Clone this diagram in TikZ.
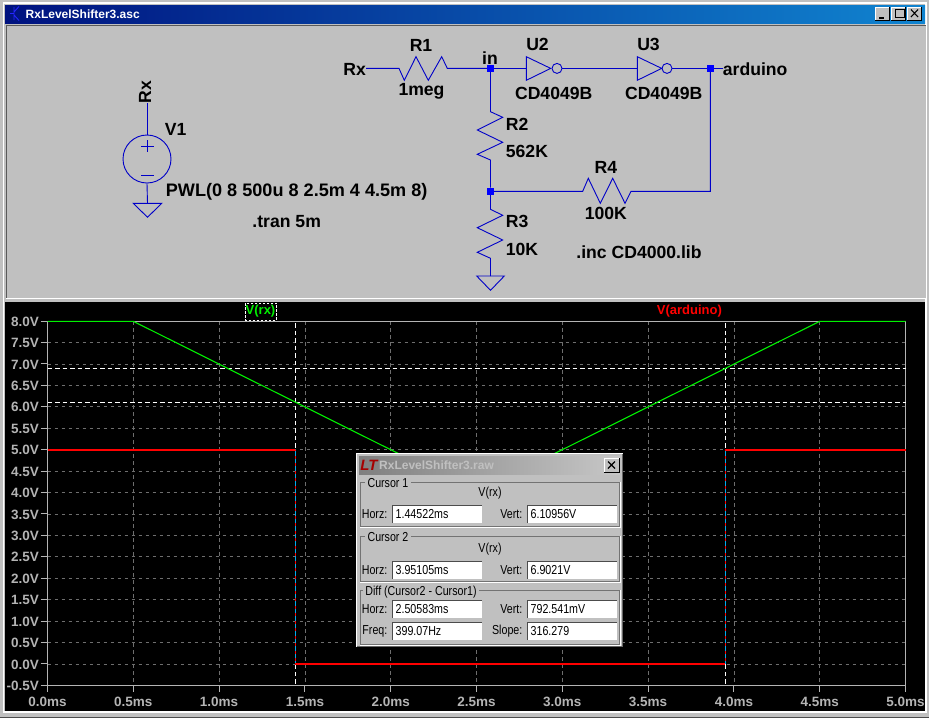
\documentclass[tikz,border=0pt]{standalone}
\usepackage{fontspec}
\setmainfont{Liberation Sans}
\definecolor{wingray}{HTML}{C0C0C0}
\definecolor{schem}{HTML}{0000C8}
\definecolor{axis}{HTML}{B4B4B4}
\definecolor{gridc}{HTML}{6E6E6E}
\definecolor{tracegreen}{HTML}{00F000}
\definecolor{tracered}{HTML}{FF0000}
\definecolor{titleL}{HTML}{00127F}
\definecolor{titleR}{HTML}{1084D0}
\tikzset{
  wire/.style={draw=schem,line width=0.9pt},
  lbl/.style={font=\bfseries\fontsize{17.6}{18}\selectfont,text=black,inner sep=0pt,anchor=center},
  dot/.style={fill=blue,draw=none,minimum size=7pt,inner sep=0pt,rectangle},
  bubble/.style={draw=schem,circle,line width=0.9pt,minimum size=10pt,inner sep=0pt},
  gridl/.style={draw=gridc,line width=0.7pt,dash pattern=on 3.5pt off 3.5pt},
  curs/.style={draw=white,line width=1pt,dash pattern=on 4.5pt off 3pt},
  ylab/.style={font=\bfseries\fontsize{13.5}{14}\selectfont,text=axis,anchor=east,inner sep=0pt},
  xlab/.style={font=\bfseries\fontsize{13.5}{14}\selectfont,text=axis,anchor=center,inner sep=0pt},
  dlg/.style={font=\fontsize{13}{14}\selectfont,text=black,inner sep=0pt,xscale=0.82},
  group/.style={draw=white,line width=0.8pt},
}
\begin{document}
\begin{tikzpicture}[x=1pt,y=-1pt]
\useasboundingbox (0,0) rectangle (929,718);
% window
\fill[wingray] (0,0) rectangle (929,718);
\draw[white,line width=1.5pt] (3.5,712) -- (3.5,3) -- (926,3) -- (926,712) -- cycle;
\draw[black!70,line width=1pt] (0,717.5) -- (929,717.5);
\fill[left color=titleL,right color=titleR] (5,5) rectangle (925,23);
\node[font=\bfseries\fontsize{12}{13}\selectfont,text=white,anchor=west,inner sep=0pt] (title) at (25.5,14) {RxLevelShifter3.asc};
\draw[blue!85!white,line width=0.9pt] (14,7) -- (14,20) (10,13.5) -- (14,13.5) (14,12) -- (19,6.5) (14,15) -- (19,20.5);
\foreach \xx in {876,892,908}{
  \fill[wingray] (\xx-1,7) rectangle (\xx+13,20);
  \draw[black,line width=0.8pt] (\xx+13,7) -- (\xx+13,20) -- (\xx-1,20);
  \draw[white,line width=0.8pt] (\xx-1,20) -- (\xx-1,7) -- (\xx+13,7);
}
\draw[black,line width=1.5pt] (879,18) -- (884,18);
\draw[black,line width=0.9pt] (895,9.5) rectangle (904,17.5);
\draw[black,line width=1.6pt] (895,9.5) -- (904,9.5);
\draw[black,line width=1.1pt] (911,9.5) -- (918,17) (918,9.5) -- (911,17);
% schematic pane
\fill[wingray] (6,25) rectangle (926,298);
\draw[black!65,line width=1pt] (6,298) -- (6,25) -- (926,25);
\draw[white,line width=1pt] (6,298) -- (926,298) -- (926,25);
% plot pane
\fill[black] (5,302) rectangle (924.5,711);
% grid
\foreach \i in {1,...,9}{
  \draw[gridl] ({47.5+85.8*\i},321) -- ({47.5+85.8*\i},685.3);
}
\foreach \i in {1,...,16}{
  \draw[gridl] (47.5,{321+21.43*\i}) -- (905.5,{321+21.43*\i});
}
% ticks and frame
\draw[axis,line width=0.9pt] (47.5,321) rectangle (905.5,685.3);
\foreach \i in {0,...,17}{
  \draw[axis,line width=0.9pt] (40.5,{321+21.43*\i}) -- (47.5,{321+21.43*\i});
}
\foreach \i in {0,...,10}{
  \draw[axis,line width=0.9pt] ({47.5+85.8*\i},685.3) -- ({47.5+85.8*\i},692);
}
\foreach \v [count=\i from 0] in {8.0V,7.5V,7.0V,6.5V,6.0V,5.5V,5.0V,4.5V,4.0V,3.5V,3.0V,2.5V,2.0V,1.5V,1.0V,0.5V,0.0V,-0.5V}{
  \node[ylab] (yl\i) at (39,{321.5+21.43*\i}) {\v};
}
\foreach \v [count=\i from 0] in {0.0ms,0.5ms,1.0ms,1.5ms,2.0ms,2.5ms,3.0ms,3.5ms,4.0ms,4.5ms,5.0ms}{
  \node[xlab] (xl\i) at ({47.5+85.8*\i},702) {\v};
}
% cursors
\draw[curs] (47.5,402.3) -- (905.5,402.3);
\draw[curs] (47.5,368.3) -- (905.5,368.3);
\draw[tracered,line width=0.9pt] (295.3,450) -- (295.3,664.3) (725.3,450) -- (725.3,664.3);
\draw[curs] (295.3,323) -- (295.3,450) (725.3,323) -- (725.3,450) (295.3,664.3) -- (295.3,685.3) (725.3,664.3) -- (725.3,685.3);
\draw[curs,draw=cyan] (295.3,451) -- (295.3,664) (725.3,451) -- (725.3,664);
% traces
\draw[tracegreen,line width=1.1pt] (47.5,321.3) -- (133.3,321.3) -- (476.5,492.5) -- (819.7,321.3) -- (905.5,321.3);
\draw[tracered,line width=1.8pt] (47.5,450.3) -- (295.3,450.3) (295.3,664.3) -- (725.3,664.3) (725.3,450.3) -- (905.5,450.3);
% trace labels
\node[font=\bfseries\fontsize{13}{14}\selectfont,text=tracegreen,inner sep=0pt] (vrx) at (260.5,311.5) {V(rx)};
\draw[white,line width=0.8pt,dash pattern=on 2.5pt off 1.5pt] (245.3,303.3) rectangle (276.5,320);
\node[font=\bfseries\fontsize{13}{14}\selectfont,text=tracered,inner sep=0pt] (varduino) at (689.4,311.5) {V(arduino)};
% ---------- schematic ----------
\node[draw=schem,circle,line width=0.9pt,minimum size=48pt,inner sep=0pt] (v1) at (147,159) {};
\draw[schem,line width=0.8pt] (141,146) -- (153.7,146) (147.3,140) -- (147.3,152) (141,175) -- (153.7,175);
\node[lbl,rotate=90] (rxv) at (145,92) {Rx};
\coordinate (gv) at (147.5,203.3);
\draw[wire] (v1.north) -- (v1.north |- rxv.west);
\draw[wire] (v1.south) -- (gv);
\draw[wire] (133.3,203.3) -- (161.7,203.3) -- (147.5,217.3) -- cycle;
\node[lbl] (v1l) at (175.7,129.3) {V1};
\node[lbl,anchor=west,font=\bfseries\fontsize{18.1}{18}\selectfont] (pwl) at (165.7,191.7) {PWL(0 8 500u 8 2.5m 4 4.5m 8)};
\node[lbl] (tran) at (286.7,221.7) {.tran 5m};
% Rx / R1
\node[lbl] (rx) at (354.7,69) {Rx};
\node[lbl] (r1l) at (421,45.7) {R1};
\node[lbl] (r1v) at (421.5,91.7) {1meg};
\node[lbl] (inl) at (490,58) {in};
\node[dot] (in) at (490.5,68.4) {};
\draw[wire] (rx.east |- in) -- (399,68.4) -- (404.3,80.3) -- (416,56.7) -- (428.3,80.3) -- (441.7,56.7) -- (447.3,68.4) -- (in);
% U2
\node[dot] (j2) at (490.5,191.3) {};
\coordinate (u2i) at (526.3,68.4);
\draw[wire] (in) -- (u2i);
\draw[wire] (526.3,56.7) -- (526.3,80.3) -- (550.7,68.4) -- cycle;
\node[bubble] (u2o) at (557,68.4) {};
\node[lbl] (u2l) at (537.5,44.3) {U2};
\node[lbl] (u2v) at (553.7,93.3) {CD4049B};
% U3
\coordinate (u3i) at (637.3,68.4);
\draw[wire] (u2o) -- (u3i);
\draw[wire] (637.3,56.7) -- (637.3,80.3) -- (661.7,68.4) -- cycle;
\node[bubble] (u3o) at (667,68.4) {};
\node[lbl] (u3l) at (648.5,44.3) {U3};
\node[lbl] (u3v) at (663.7,93.3) {CD4049B};
\node[dot] (out) at (710.4,68.4) {};
\node[lbl,anchor=west] (ard) at (722.7,69) {arduino};
\draw[wire] (u3o) -- (out);
\draw[wire] (out) -- (ard.west |- out);
% R2
\draw[wire] (in) -- (490.5,111.7) -- (502.7,117.3) -- (477.3,130) -- (502.7,142.3) -- (477.3,154.3) -- (490.5,160) -- (j2);
\node[lbl,anchor=west] (r2l) at (505.7,124) {R2};
\node[lbl,anchor=west] (r2v) at (505.7,151.7) {562K};
% R3
\draw[wire] (j2) -- (490.5,209.3) -- (502.7,215.3) -- (477.3,227.7) -- (502.7,240) -- (477.3,252.3) -- (490.5,258.3) -- (490.5,276);
\draw[wire] (476.7,276) -- (504.3,276) -- (490.5,290.3) -- cycle;
\node[lbl,anchor=west] (r3l) at (505.7,221.7) {R3};
\node[lbl,anchor=west] (r3v) at (505.7,249.3) {10K};
% R4
\draw[wire] (j2) -- (582.7,191.3) -- (588.3,178.3) -- (600.3,203.3) -- (612.7,178.3) -- (625,203.3) -- (631,191.3) -- (710.4,191.3) -- (out);
\node[lbl] (r4l) at (605.8,167.7) {R4};
\node[lbl] (r4v) at (605.8,213.3) {100K};
\node[lbl] (inc) at (639,252.7) {.inc CD4000.lib};
% ---------- dialog ----------
\fill[wingray] (356,453) rectangle (623,647);
\draw[white,line width=1pt] (356.5,647) -- (356.5,453.5) -- (623,453.5);
\draw[black!60,line width=1pt] (357,646.5) -- (622.5,646.5) -- (622.5,454);
\fill[left color=black!50,right color=black!22] (359,456) rectangle (620,474);
\node[font=\itshape\bfseries\fontsize{15}{15}\selectfont,text=red!65!black,inner sep=0pt] (logo) at (369,465) {LT};
\node[font=\bfseries\fontsize{12}{13}\selectfont,text=wingray,anchor=west,inner sep=0pt] (dtitle) at (379,465) {RxLevelShifter3.raw};
\fill[wingray] (604,458) rectangle (619,472);
\draw[black,line width=0.8pt] (619,458) -- (619,472) -- (604,472);
\draw[white,line width=0.8pt] (604,472) -- (604,458) -- (619,458);
\draw[black,line width=1.2pt] (608,461.5) -- (615,468.5) (615,461.5) -- (608,468.5);
% group boxes
\draw[group] (360.5,482.5) rectangle (620,527);
\draw[group] (360.5,536.5) rectangle (620,582);
\draw[group] (360.5,590.5) rectangle (620,645);
\draw[black!55,line width=0.6pt] (360,482) rectangle (619.5,526.5);
\draw[black!55,line width=0.6pt] (360,536) rectangle (619.5,581.5);
\draw[black!55,line width=0.6pt] (360,590) rectangle (619.5,644.5);
\node[dlg,fill=wingray,inner xsep=3pt,inner ysep=1pt] (c1) at (388,483) {Cursor 1};
\node[dlg,fill=wingray,inner xsep=3pt,inner ysep=1pt] (c2) at (388,537) {Cursor 2};
\node[dlg,fill=wingray,inner xsep=3pt,inner ysep=1pt] (c3) at (421,592) {Diff (Cursor2 - Cursor1)};
\node[dlg] (v1t) at (490,493) {V(rx)};
\node[dlg] (v2t) at (490,549) {V(rx)};
\foreach \nm/\fx/\fy/\fw/\txt/\lab in {
  h1/392/505/90/1.44522ms/Horz:,
  w1/527/505/90/6.10956V/Vert:,
  h2/392/561/90/3.95105ms/Horz:,
  w2/527/561/90/6.9021V/Vert:,
  h3/392/600/90/2.50583ms/Horz:,
  w3/527/600/90/792.541mV/Vert:,
  f3/392/622/90/399.07Hz/Freq:,
  s3/527/622/90/316.279/Slope:}{
  \fill[white] (\fx,\fy) rectangle (\fx+\fw,\fy+18);
  \draw[black!70,line width=1pt] (\fx,\fy+18) -- (\fx,\fy) -- (\fx+\fw,\fy);
  \node[dlg,anchor=west] (t\nm) at (\fx+3.5,\fy+9.5) {\txt};
  \node[dlg,anchor=east] (l\nm) at (\fx-4.5,\fy+9.5) {\lab};
}
\end{tikzpicture}
\end{document}
